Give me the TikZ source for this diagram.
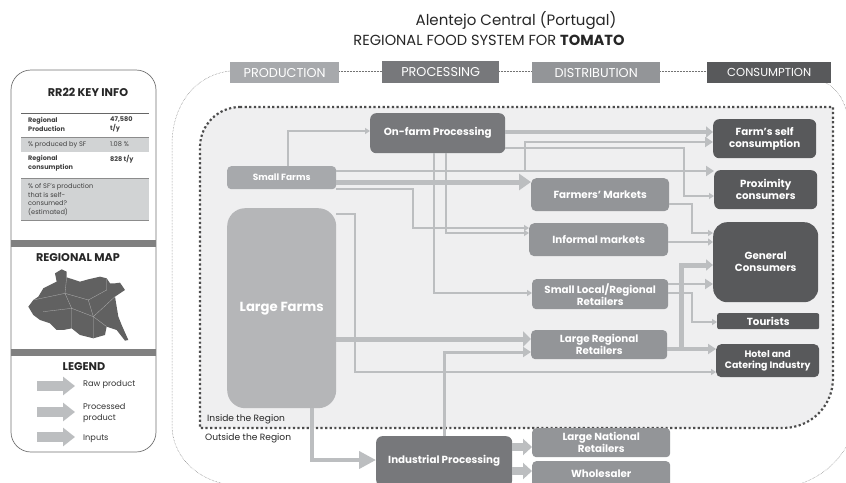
\documentclass[tikz,border=0pt]{standalone}
\usepackage{fontspec}
\setmainfont{Poppins}
\usepackage{xcolor}
\usetikzlibrary{arrows.meta}

\definecolor{prodgray}{HTML}{A7A9AC}
\definecolor{procgray}{HTML}{77787B}
\definecolor{distgray}{HTML}{939598}
\definecolor{consgray}{HTML}{58595B}
\definecolor{largegray}{HTML}{B5B6B8}
\definecolor{arrowgray}{HTML}{BCBEC0}
\definecolor{bandgray}{HTML}{D1D3D4}
\definecolor{insidegray}{HTML}{EFEFF0}

\tikzset{
  header/.style={rectangle, inner sep=0pt, anchor=north west, text=white,
    font=\fontsize{12.8}{14}\selectfont},
  farmbox/.style={rectangle, inner sep=0pt, anchor=north west, align=center, text=white,
    font=\fontsize{10.3}{12}\selectfont\bfseries},
  thinarr/.style={draw=arrowgray, line width=1.5pt, -{Triangle[length=5pt,width=6pt]}},
  midarr/.style={draw=arrowgray, line width=2.8pt, -{Triangle[length=8pt,width=10pt]}},
  fatarr/.style={draw=arrowgray, line width=5pt, -{Triangle[length=12pt,width=16pt]}},
  legendarr/.style={draw=arrowgray, line width=10pt, -{Triangle[length=12pt,width=18pt]}},
  infotext/.style={anchor=west, inner sep=0pt, align=left, text=black!75,
    font=\fontsize{6.6}{8.8}\selectfont},
  paneltitle/.style={inner sep=0pt, text=black!85, font=\fontsize{11.2}{13}\selectfont\bfseries},
  legendtext/.style={anchor=west, inner sep=0pt, align=left, text=black!80,
    font=\fontsize{8.2}{11}\selectfont}
}

\begin{document}
\begin{tikzpicture}[x=1pt,y=-1pt]
  \useasboundingbox (0,0) rectangle (846,482);
  \clip (0,0) rectangle (846,482);

  % Title
  \node[inner sep=0pt, text=black!85, font=\fontsize{15}{17}\selectfont] (title) at (516,21) {Alentejo Central (Portugal)};
  \node[inner sep=0pt, text=black!85, font=\fontsize{14.6}{17}\selectfont] (subtitle) at (489,40) {REGIONAL FOOD SYSTEM FOR \textbf{TOMATO}};

  % Outer thin dotted region
  \draw[densely dotted, black!55, line width=0.5pt]
    (230,71) .. controls (195,75) and (172,105) .. (172,145) -- (172,425)
    .. controls (172,455) and (195,478) .. (225,484) -- (800,484)
    .. controls (825,475) and (840,460) .. (850,440) -- (850,125)
    .. controls (846,105) and (840,90) .. (826,83);
  \draw[densely dotted, black!55, line width=0.5pt] (339,71) -- (382,71);
  \draw[densely dotted, black!55, line width=0.5pt] (499,71) -- (532,71);
  \draw[densely dotted, black!55, line width=0.5pt] (660,71) -- (707,71);

  % Inner thick dotted region
  \draw[fill=insidegray, draw=black!70, line width=2.2pt, dash pattern=on 2.2pt off 2.4pt]
    (240,107) -- (833,107) -- (833,378) .. controls (833,406) and (811,428) .. (783,428)
    -- (200,428) -- (200,147) .. controls (200,125) and (218,107) .. (240,107) -- cycle;

  % Column headers
  \node[header, fill=prodgray, minimum width=109pt, minimum height=21pt] (production) at (230,62) {PRODUCTION};
  \node[header, fill=procgray, minimum width=117pt, minimum height=22pt] (processing) at (382,61) {PROCESSING};
  \node[header, fill=distgray, minimum width=128pt, minimum height=21pt] (distribution) at (532,62) {DISTRIBUTION};
  \node[header, fill=consgray, minimum width=124pt, minimum height=21pt, font=\fontsize{11.6}{14}\selectfont] (consumption) at (707,62) {CONSUMPTION};

  % Production and processing
  \node[farmbox, fill=procgray, rounded corners=6pt, minimum width=135pt, minimum height=40pt] (onfarm) at (370,113) {On-farm Processing};
  \node[farmbox, fill=prodgray, rounded corners=4pt, minimum width=109pt, minimum height=23pt, font=\fontsize{9}{11}\selectfont\bfseries] (smallf) at (227,166) {Small Farms};
  \node[farmbox, fill=largegray, rounded corners=18pt, minimum width=109pt, minimum height=200pt, font=\fontsize{13.2}{15}\selectfont\bfseries] (largef) at (227,208) {Large Farms};
  \node[farmbox, fill=procgray, rounded corners=6pt, minimum width=136pt, minimum height=50pt] (indproc) at (376,436) {Industrial Processing};

  % Distribution
  \node[farmbox, fill=distgray, rounded corners=5pt, minimum width=138pt, minimum height=33pt] (farmm) at (531,178) {Farmers' Markets};
  \node[farmbox, fill=distgray, rounded corners=5pt, minimum width=139pt, minimum height=33pt] (informal) at (529,223) {Informal markets};
  \node[farmbox, fill=distgray, rounded corners=4pt, minimum width=136pt, minimum height=30pt] (smallret) at (532,279) {Small Local/Regional\\Retailers};
  \node[farmbox, fill=distgray, rounded corners=4pt, minimum width=136pt, minimum height=29pt] (largeret) at (531,330) {Large Regional\\Retailers};
  \node[farmbox, fill=distgray, rounded corners=4pt, minimum width=138pt, minimum height=29pt] (national) at (532,428) {Large National\\Retailers};
  \node[farmbox, fill=distgray, rounded corners=4pt, minimum width=138pt, minimum height=26pt] (wholesale) at (532,461) {Wholesaler};

  % Consumption
  \node[farmbox, fill=consgray, rounded corners=6pt, minimum width=103pt, minimum height=39pt] (selfc) at (713,119) {Farm's self\\consumption};
  \node[farmbox, fill=consgray, rounded corners=6pt, minimum width=103pt, minimum height=39pt] (proxc) at (714,170) {Proximity\\consumers};
  \node[farmbox, fill=consgray, rounded corners=14pt, minimum width=105pt, minimum height=80pt] (general) at (713,222) {General\\Consumers};
  \node[farmbox, fill=consgray, rounded corners=2pt, minimum width=102pt, minimum height=16pt] (tourists) at (717,313) {Tourists};
  \node[farmbox, fill=consgray, rounded corners=5pt, minimum width=103pt, minimum height=33pt, font=\fontsize{9.4}{11.5}\selectfont\bfseries] (hotel) at (716,344) {Hotel and\\Catering Industry};

  % Flows from small farms
  \draw[thinarr, line width=2pt] (smallf.north -| 288,0) -- (288,131) -- (onfarm.west |- 0,131);
  \draw[midarr] (smallf.east |- 0,171) -- (proxc.west |- 0,171);
  \draw[midarr] (525,171) -- (525,142) -- (selfc.west |- 0,142);
  \draw[fatarr] (smallf.east |- 0,182) -- (farmm.west |- 0,182);
  \draw[thinarr] (smallf.east |- 0,189) -- (413,189) -- (413,228) -- (informal.west |- 0,228);

  % Flows from on-farm processing
  \draw[midarr, line width=4pt, -{Triangle[length=7pt,width=11pt]}] (onfarm.east |- 0,132) -- (selfc.west |- 0,132);
  \draw[thinarr] (onfarm.east |- 0,148) -- (684,148) -- (684,196) -- (proxc.west |- 0,196);
  \draw[thinarr] (446,153) -- (446,233) -- (informal.west |- 0,233);
  \draw[thinarr] (434,153) -- (434,293) -- (smallret.west |- 0,293);

  % Flows from large farms
  \draw[fatarr, line width=5pt, -{Triangle[length=8pt,width=15pt]}] (largef.east |- 0,339) -- (largeret.west |- 0,339);
  \draw[thinarr] (largef.east |- 0,214) -- (355,214) -- (355,372) -- (hotel.west |- 0,372);
  \draw[midarr, line width=4pt, -{Triangle[length=17pt,width=17pt]}] (312,408) -- (312,460) -- (indproc.west |- 0,460);

  % Flows from industrial processing
  \draw[midarr, line width=3pt] (444,436) -- (444,352) -- (largeret.west |- 0,352);
  \draw[fatarr, line width=8pt, -{Triangle[length=9pt,width=16pt]}] (indproc.east |- 0,447) -- (national.west |- 0,447);
  \draw[fatarr, line width=8pt, -{Triangle[length=9pt,width=16pt]}] (indproc.east |- 0,471) -- (wholesale.west |- 0,471);

  % Flows from distribution to consumers
  \draw[thinarr] (farmm.east |- 0,204) -- (692,204) -- (692,233) -- (general.west |- 0,233);
  \draw[thinarr, line width=2pt, -{Triangle[length=5pt,width=7pt]}] (informal.east |- 0,242) -- (general.west |- 0,242);
  \draw[midarr, line width=2.2pt] (smallret.east |- 0,284) -- (general.west |- 0,284);
  \draw[thinarr] (smallret.east |- 0,293) -- (692,293) -- (692,322) -- (tourists.west |- 0,322);
  \draw[midarr, line width=3.5pt] (largeret.east |- 0,349) -- (hotel.west |- 0,349);
  \draw[midarr, line width=5pt, -{Triangle[length=7pt,width=11pt]}] (681,349) -- (681,265) -- (general.west |- 0,265);

  % Region labels
  \node[anchor=west, inner sep=0pt, text=black!85, font=\fontsize{9.1}{11}\selectfont] (inside) at (207,419) {Inside the Region};
  \node[anchor=west, inner sep=0pt, text=black!85, font=\fontsize{9.1}{11}\selectfont] (outside) at (205,438) {Outside the Region};

  % Side panel
  \draw[draw=black!55, fill=white, line width=0.7pt, rounded corners=20pt] (11,70) rectangle (156,452);
  \node[paneltitle] (keyinfo) at (88,92) {RR22 KEY INFO};
  \fill[bandgray] (21,137) rectangle (149,152);
  \fill[bandgray] (21,178) rectangle (149,220);
  \draw[black!60, line width=0.8pt] (21,113) -- (149,113);
  \draw[black!45, line width=0.8pt] (21,137) -- (149,137);
  \draw[black!45, line width=0.8pt] (21,178) -- (149,178);
  \draw[black!45, line width=0.6pt] (21,220) -- (149,220);
  \node[infotext, font=\fontsize{6.5}{9}\selectfont\bfseries] (prodlab) at (28,124.5) {Regional\\Production};
  \node[infotext, font=\fontsize{6.5}{9}\selectfont\bfseries] (prodval) at (110,124.5) {47,580\\t/y};
  \node[infotext] (sflab) at (28,144.5) {\% produced by SF};
  \node[infotext] (sfval) at (110,144.5) {1.08 \%};
  \node[infotext, font=\fontsize{6.5}{9}\selectfont\bfseries] (conslab) at (28,163) {Regional\\consumption};
  \node[infotext, font=\fontsize{6.5}{9}\selectfont\bfseries] (consval) at (110,159) {828 t/y};
  \node[infotext] (selflab) at (28,199.5) {\% of SF's production\\that is self-\\consumed?\\(estimated)};

  % Panel dividers
  \fill[black!50] (11,240) rectangle (156,247);
  \fill[black!50] (11,349) rectangle (156,356);
  \node[paneltitle] (maptitle) at (78,258) {REGIONAL MAP};
  \node[paneltitle] (legendtitle) at (84,367) {LEGEND};

  % Regional map
  \begin{scope}[shift={(0,240)},x=0.3333pt,y=-0.3333pt]
    \fill[black!62] (165,100) -- (185,88) -- (200,95) -- (200,112) -- (240,125) -- (265,118) -- (300,110)
      -- (320,115) -- (330,130) -- (345,130) -- (360,128) -- (375,150) -- (345,170) -- (350,200) -- (355,230)
      -- (365,255) -- (385,300) -- (375,302) -- (350,270) -- (320,260) -- (315,285) -- (280,295) -- (240,285)
      -- (215,265) -- (190,270) -- (170,270) -- (150,250) -- (120,240) -- (100,225) -- (85,200) -- (100,180)
      -- (115,170) -- (130,145) -- (170,125) -- cycle;
    \draw[white!70!black, line width=0.3pt] (200,112) -- (195,160) -- (215,205) -- (215,265);
    \draw[white!70!black, line width=0.3pt] (100,180) -- (195,160) -- (265,180) -- (320,150) -- (320,115);
    \draw[white!70!black, line width=0.3pt] (265,180) -- (280,230) -- (280,295);
    \draw[white!70!black, line width=0.3pt] (215,205) -- (280,230) -- (345,170);
    \draw[white!70!black, line width=0.3pt] (280,230) -- (320,260);
    \draw[white!70!black, line width=0.3pt] (130,215) -- (215,205);
  \end{scope}

  % Legend
  \coordinate (rawa) at (37,386);
  \coordinate (rawb) at (75,386);
  \coordinate (proca) at (37,412);
  \coordinate (procb) at (75,412);
  \coordinate (inpa) at (37,437);
  \coordinate (inpb) at (75,437);
  \draw[legendarr] (rawa) -- (rawb);
  \draw[legendarr] (proca) -- (procb);
  \draw[legendarr] (inpa) -- (inpb);
  \node[legendtext] (rawlab) at (83,385) {Raw product};
  \node[legendtext] (proclab) at (83,413) {Processed\\product};
  \node[legendtext] (inplab) at (83,439) {Inputs};
\end{tikzpicture}
\end{document}
